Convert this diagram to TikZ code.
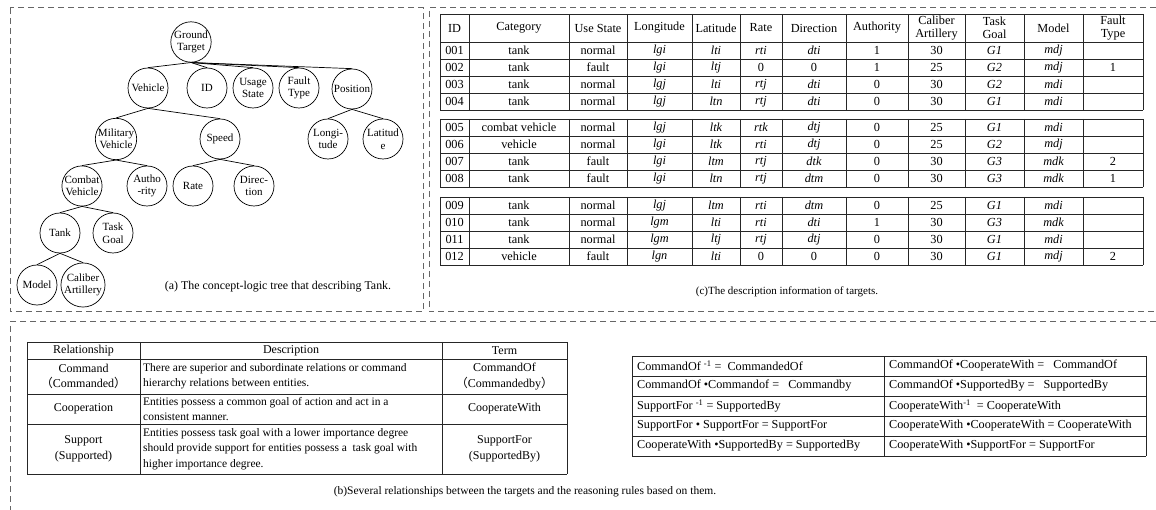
\documentclass[tikz,border=0pt]{standalone}
\usepackage{fontspec}
\setmainfont{Liberation Serif}
\newfontfamily\cjk{Noto Sans CJK SC}
\usepackage{tikz}
\usetikzlibrary{positioning}
\tikzset{
concept/.style = { circle, draw = black, fill = white, line width = 0.7pt, minimum size = 40pt, inner sep = 0pt, align = center, font = \fontsize{11}{12.5}\selectfont },
branch/.style = { draw = black, line width = 0.7pt },
panel border/.style = { draw = black!60, line width = 1pt, dash pattern = on 6pt off 4pt },
table line/.style = { draw = black!85, line width = 0.8pt },
cell/.style = { inner sep = 0pt, align = center, font = \fontsize{12.3}{13.5}\selectfont },
var cell/.style = { cell, font = \fontsize{12.3}{13.5}\selectfont\itshape },
rel cell/.style = { cell, font = \fontsize{12}{15.5}\selectfont },
text cell/.style = { cell, anchor = west, align = left, font = \fontsize{11.5}{15.5}\selectfont },
rule cell/.style = { cell, anchor = west, align = left, font = \fontsize{12.2}{14}\selectfont },
caption/.style = { inner sep = 0pt, font = \fontsize{11.5}{13}\selectfont },
}
\newcommand{\fwl}{{\cjk （}}
\newcommand{\fwr}{{\cjk ）}}

\begin{document}
\begin{tikzpicture}[x = 1pt, y = -1pt]
    \useasboundingbox (0, 0) rectangle (1156, 510);
    \draw[panel border] (10, 8) rectangle (423, 312);
    \draw[panel border] (1156, 8) -- (429, 8) -- (429, 312) -- (1156, 312);
    \draw[panel border] (1156, 322) -- (10, 322) -- (10, 510);
    % (a) concept-logic tree
    \node[concept] (gt) at (191, 42) {Ground\\Target};
    \node[concept] (veh) at (148, 88) {Vehicle};
    \node[concept] (id) at (207, 88) {ID};
    \node[concept] (us) at (253, 88) {Usage\\State};
    \node[concept] (ft) at (299, 88) {Fault\\Type};
    \node[concept] (pos) at (352, 89) {Position};
    \node[concept] (mv) at (116, 139) {Military\\Vehicle};
    \node[concept] (spd) at (220, 139) {Speed};
    \node[concept] (lon) at (328, 139) {Longi-\\tude};
    \node[concept] (lat) at (383, 139) {Latitud\\e};
    \node[concept] (cv) at (82, 186) {Combat\\Vehicle};
    \node[concept] (auth) at (147, 186) {Autho\\-rity};
    \node[concept] (rate) at (193, 186) {Rate};
    \node[concept] (dir) at (254, 186) {Direc-\\tion};
    \node[concept] (tank) at (60, 233) {Tank};
    \node[concept] (tg) at (113, 233) {Task\\Goal};
    \node[concept] (model) at (37, 285) {Model};
    \node[concept] (cal) at (83, 285) {Caliber\\Artillery};
    \draw[branch] (gt.south) -- (veh.north);
    \draw[branch] (gt.south) -- (id.north);
    \draw[branch] (gt.south) -- (us.north);
    \draw[branch] (gt.south) -- (ft.north);
    \draw[branch] (gt.south) -- (pos.north);
    \draw[branch] (veh.south) -- (mv.north);
    \draw[branch] (veh.south) -- (spd.north);
    \draw[branch] (pos.south) -- (lon.north);
    \draw[branch] (pos.south) -- (lat.north);
    \draw[branch] (mv.south) -- (cv.north);
    \draw[branch] (mv.south) -- (auth.north);
    \draw[branch] (spd.south) -- (rate.north);
    \draw[branch] (spd.south) -- (dir.north);
    \draw[branch] (cv.south) -- (tank.north);
    \draw[branch] (cv.south) -- (tg.north);
    \draw[branch] (tank.south) -- (model.north);
    \draw[branch] (tank.south) -- (cal.north);
    \node[caption, font = \fontsize{11.9}{13}\selectfont] (capa) at (278, 287) {(a) The concept-logic tree that describing Tank.};
    % (c) description of targets
    \foreach \x in {440, 469, 569, 627, 692, 740, 782, 846, 908, 965, 1024, 1083, 1143} {
        \draw[table line] (\x, 14) -- (\x, 110);
        \draw[table line] (\x, 119) -- (\x, 187);
        \draw[table line] (\x, 197) -- (\x, 265);
    }
    \foreach \y in {14, 42, 59, 76, 93, 110, 119, 136, 153, 170, 187, 197, 214, 231, 248, 265}
        \draw[table line] (440, \y) -- (1143, \y);
    \node[cell] (hid) at (454.5, 28) {ID};
    \node[cell] (hcat) at (519, 28) {Category};
    \node[cell] (hst) at (598, 28) {Use State};
    \node[cell] (hlg) at (659.5, 28) {Longitude};
    \node[cell] (hlt) at (716, 28) {Latitude};
    \node[cell] (hrt) at (761, 28) {Rate};
    \node[cell] (hdt) at (814, 28) {Direction};
    \node[cell] (hau) at (877, 28) {Authority};
    \node[cell] (hca) at (936.5, 28) {Caliber\\Artillery};
    \node[cell] (htg) at (994.5, 28) {Task\\Goal};
    \node[cell] (hmd) at (1053.5, 28) {Model};
    \node[cell] (hft) at (1113, 28) {Fault\\Type};
    \foreach \y/\n/\cat/\st/\lg/\lt/\rt/\dt/\au/\ca/\tg/\md in {
        50.5/001/tank/normal/lgi/lti/rti/dti/1/30/G1/mdj,
        67.5/002/tank/fault/lgi/ltj/{\upshape 0}/{\upshape 0}/1/25/G2/mdj,
        84.5/003/tank/normal/lgj/lti/rtj/dti/0/30/G2/mdi,
        101.5/004/tank/normal/lgj/ltn/rtj/dti/0/30/G1/mdi,
        127.5/005/combat vehicle/normal/lgj/ltk/rtk/dtj/0/25/G1/mdi,
        144.5/006/vehicle/normal/lgi/ltk/rti/dtj/0/25/G2/mdj,
        161.5/007/tank/fault/lgi/ltm/rtj/dtk/0/30/G3/mdk,
        178.5/008/tank/fault/lgi/ltn/rtj/dtm/0/30/G3/mdk,
        205.5/009/tank/normal/lgj/ltm/rti/dtm/0/25/G1/mdi,
        222.5/010/tank/normal/lgm/lti/rti/dti/1/30/G3/mdk,
        239.5/011/tank/normal/lgm/ltj/rtj/dtj/0/30/G1/mdi,
        256.5/012/vehicle/fault/lgn/lti/{\upshape 0}/{\upshape 0}/0/30/G1/mdj} {
        \node[cell] (id\n) at (454.5, \y) {\n};
        \node[cell] (cat\n) at (519, \y) {\cat};
        \node[cell] (st\n) at (598, \y) {\st};
        \node[var cell] (lg\n) at (659.5, \y) {\lg};
        \node[var cell] (lt\n) at (716, \y) {\lt};
        \node[var cell] (rt\n) at (761, \y) {\rt};
        \node[var cell] (dt\n) at (814, \y) {\dt};
        \node[cell] (au\n) at (877, \y) {\au};
        \node[cell] (ca\n) at (936.5, \y) {\ca};
        \node[var cell] (tg\n) at (994.5, \y) {\tg};
        \node[var cell] (md\n) at (1053.5, \y) {\md};
    }
    \node[cell] (ft002) at (1113, 67.5) {1};
    \node[cell] (ft007) at (1113, 161.5) {2};
    \node[cell] (ft008) at (1113, 178.5) {1};
    \node[cell] (ft012) at (1113, 256.5) {2};
    \node[caption, font = \fontsize{11}{13}\selectfont] (capc) at (787, 292) {(c)The description information of targets.};
    % (b) relationships
    \foreach \x in {27, 140, 442, 567}
        \draw[table line] (\x, 342) -- (\x, 474);
    \foreach \y in {342, 359, 394, 424, 474}
        \draw[table line] (27, \y) -- (567, \y);
    \node[rel cell] (hrel) at (83.5, 350.5) {Relationship};
    \node[rel cell] (hdesc) at (291, 350.5) {Description};
    \node[rel cell] (hterm) at (504.5, 350.5) {Term};
    \node[rel cell] (relcmd) at (83.5, 376.5) {Command\\\fwl Commanded\fwr};
    \node[text cell] (desccmd) at (143, 376.5) {There are superior and subordinate relations or command\\hierarchy relations between entities.};
    \node[rel cell] (termcmd) at (504.5, 376.5) {CommandOf\\\fwl Commandedby\fwr};
    \node[rel cell] (relcoop) at (83.5, 409) {Cooperation};
    \node[text cell] (desccoop) at (143, 409) {Entities possess a common goal of action and act in a\\consistent manner.};
    \node[rel cell] (termcoop) at (504.5, 409) {CooperateWith};
    \node[rel cell] (relsup) at (83.5, 449) {Support\\(Supported)};
    \node[text cell] (descsup) at (143, 449) {Entities possess task goal with a lower importance degree\\should provide support for entities possess a~ task goal with\\higher importance degree.};
    \node[rel cell] (termsup) at (504.5, 449) {SupportFor\\(SupportedBy)};
    % reasoning rules
    \foreach \x in {632, 884, 1146}
        \draw[table line] (\x, 356) -- (\x, 456);
    \foreach \y in {356, 376, 396, 416, 436, 456}
        \draw[table line] (632, \y) -- (1146, \y);
    \node[rule cell] (l1) at (637, 366) {CommandOf \textsuperscript{-1} = ~CommandedOf};
    \node[rule cell] (l2) at (637, 386) {CommandOf •Commandof = ~ Commandby};
    \node[rule cell] (l3) at (637, 406) {SupportFor \textsuperscript{-1} = SupportedBy};
    \node[rule cell] (l4) at (637, 426) {SupportFor • SupportFor = SupportFor};
    \node[rule cell] (l5) at (637, 446) {CooperateWith •SupportedBy = SupportedBy};
    \node[rule cell] (r1) at (889, 366) {CommandOf •CooperateWith = ~ CommandOf};
    \node[rule cell] (r2) at (889, 386) {CommandOf •SupportedBy = ~ SupportedBy};
    \node[rule cell] (r3) at (889, 406) {CooperateWith\textsuperscript{-1} ~= CooperateWith};
    \node[rule cell] (r4) at (889, 426) {CooperateWith •CooperateWith = CooperateWith};
    \node[rule cell] (r5) at (889, 446) {CooperateWith •SupportFor = SupportFor};
    \node[caption] (capb) at (525, 492) {(b)Several relationships between the targets and the reasoning rules based on them.};
\end{tikzpicture}
\end{document}
